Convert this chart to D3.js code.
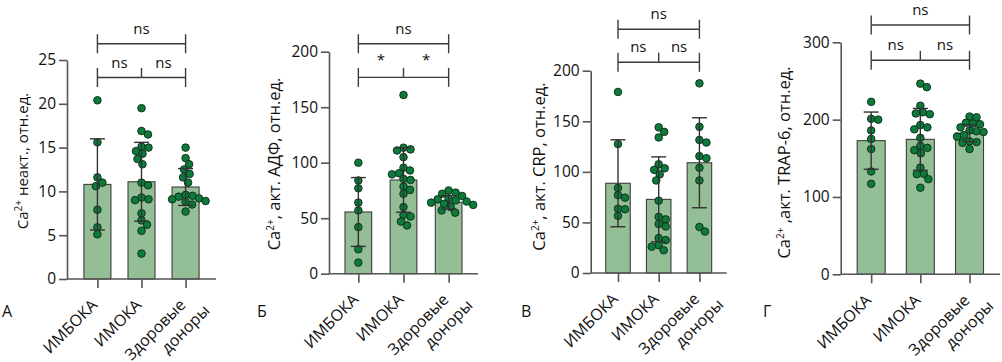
<!DOCTYPE html>
<html><head><meta charset="utf-8">
<script src="https://cdn.jsdelivr.net/npm/d3@7"></script>
<style>
body{margin:0;background:#fff}
svg{display:block}
text{font-family:"Open Sans","Noto Sans",sans-serif;fill:#111}
</style>
</head><body>
<svg id="chart" width="1002" height="362"></svg>
<script>
// ---------- data ----------
const categories = ["ИМБОКА", "ИМОКА", "Здоровые доноры"];

// Panel А: Ca2+ неакт.
const aImboka = [20.4, 15.6, 11.6, 11.0, 10.6, 7.9, 5.9, 5.1];
const aImoka  = [19.5, 16.9, 16.5, 15.1, 15.0, 14.6, 14.3, 13.7, 13.1, 11.0, 10.7, 9.3, 9.1, 9.0, 7.5, 6.7, 6.2, 5.5, 2.9];
const aDonors = [15.0, 13.8, 13.1, 12.5, 12.0, 11.6, 11.0, 9.6, 9.5, 9.4, 9.2, 9.1, 8.9, 8.8, 8.5, 7.7];
const aMeans  = [10.8, 11.1, 10.5];
const aSD     = [5.2, 4.5, 2.1];
const aTicks  = [0, 5, 10, 15, 20, 25];

// Panel Б: Ca2+ акт. АДФ
const bImboka = [100, 84, 77, 64, 57, 42, 22, 10];
const bImoka  = [161, 113.5, 112, 111, 105, 95.5, 93, 90.5, 89.5, 85.5, 84.5, 78.5, 75.5, 72, 60, 53, 51.5, 47, 43.5];
const bDonors = [75, 73, 72, 70, 68, 67, 66, 65, 64, 63, 62, 60, 57, 55];
const bMeans  = [55.6, 84.4, 64.3];
const bSD     = [31, 29, 6];
const bTicks  = [0, 50, 100, 150, 200];

// Panel В: Ca2+ акт. CRP
const cImboka = [179, 127.5, 84, 77, 74.5, 63.5, 63, 56.5];
const cImoka  = [144, 139.5, 134, 107.5, 103.5, 102, 97.5, 91.5, 71.5, 55.5, 53, 48.5, 46, 34.5, 32.5, 27.5, 26, 22.5];
const cDonors = [187.5, 144.5, 131.5, 129, 115.5, 113.5, 104, 91.5, 45.5, 41];
const cMeans  = [88.7, 72.8, 109];
const cSD     = [43, 42, 44.5];
const cTicks  = [0, 50, 100, 150, 200];

// Panel Г: Ca2+ акт. TRAP-6
const dImboka = [223, 201, 200, 186, 175, 162, 133, 117];
const dImoka  = [246.5, 242, 218, 209.5, 208, 207, 193, 190, 187.5, 176.5, 166, 163.5, 160.5, 156.5, 138, 130, 129.5, 123, 112];
const dDonors = [204, 203, 196, 195, 194, 190, 186, 185, 184, 180, 178, 172, 171, 170, 162];
const dMeans  = [172.8, 174.5, 182.5];
const dSD     = [37, 40, 11];
const dTicks  = [0, 100, 200, 300];

// significance annotations: [fromIndex, toIndex, level(value), label]
const aSig = {top: [0, 2, 26.86, "ns"], low: [[0, 1, "ns"], [1, 2, "ns"]], lowLevel: 23.0};
const bSig = {top: [0, 2, 207.2, "ns"], low: [[0, 1, "*"], [1, 2, "*"]], lowLevel: 176.9};
const cSig = {top: [0, 2, 241, "ns"],   low: [[0, 1, "ns"], [1, 2, "ns"]], lowLevel: 208.3};
const dSig = {top: [0, 2, 322.4, "ns"], low: [[0, 1, "ns"], [1, 2, "ns"]], lowLevel: 276.7};

const aTitle = ["Ca", "2+", " неакт., отн.ед."];
const bTitle = ["Ca", "2+", ", акт. АДФ, отн.ед."];
const cTitle = ["Ca", "2+", ", акт. CRP, отн.ед."];
const dTitle = ["Ca", "2+", " ,акт. TRAP-6, отн.ед."];

// ---------- layout ----------
const panels = [
  {letter: "А", letterX: 2, title: aTitle, series: [aImboka, aImoka, aDonors], means: aMeans, sd: aSD, ticks: aTicks, sig: aSig,
   x0: 67, x1: 216, pad: 0.69, yBottom: 279, yTop: 60, yMax: 25, barW: 27, titleOff: 39, titleY: 161, titleFs: 15},
  {letter: "Б", letterX: 257, title: bTitle, series: [bImboka, bImoka, bDonors], means: bMeans, sd: bSD, ticks: bTicks, sig: bSig,
   x0: 329, x1: 478, pad: 0.65, yBottom: 273.7, yTop: 51.7, yMax: 200, barW: 26.7, titleOff: 49, titleY: 164, titleFs: 16.5},
  {letter: "В", letterX: 521, title: cTitle, series: [cImboka, cImoka, cDonors], means: cMeans, sd: cSD, ticks: cTicks, sig: cSig,
   x0: 590.7, x1: 726.7, pad: 0.67, yBottom: 273, yTop: 70.7, yMax: 200, barW: 24.5, titleOff: 46, titleY: 166.5, titleFs: 16.5},
  {letter: "Г", letterX: 763, title: dTitle, series: [dImboka, dImoka, dDonors], means: dMeans, sd: dSD, ticks: dTicks, sig: dSig,
   x0: 840.7, x1: 1000, pad: 0.62, yBottom: 274.3, yTop: 42.3, yMax: 300, barW: 28, titleOff: 51, titleY: 162.5, titleFs: 16.5}
];

const BAR_FILL = "#94be95", BAR_STROKE = "#3d3d3d";
const DOT_FILL = "#0d7a3c", DOT_STROKE = "#0b2a15";
const AXIS = "#555";
const R = 3.8;

const svg = d3.select("#chart");

function swarm(values, y, cx, r) {
  const pts = values.map(v => ({v, y: y(v)})).sort((a, b) => a.y - b.y);
  const placed = [];
  const step = 0.5;
  pts.forEach(p => {
    let k = 0, off = 0;
    while (true) {
      off = (k === 0) ? 0 : (k % 2 === 1 ? 1 : -1) * Math.ceil(k / 2) * step;
      const ok = placed.every(q => Math.hypot(q.off - off, q.y - p.y) >= 2 * r - 0.6);
      if (ok) break;
      k++;
    }
    p.off = off;
    placed.push(p);
  });
  return pts.map(p => ({v: p.v, x: cx + p.off, y: p.y}));
}

panels.forEach(P => {
  const g = svg.append("g");
  const x = d3.scalePoint().domain(categories).range([P.x0, P.x1]).padding(P.pad);
  const y = d3.scaleLinear().domain([0, P.yMax]).range([P.yBottom, P.yTop]);

  // bars
  g.selectAll("rect.bar").data(P.means).join("rect")
    .attr("x", (d, i) => x(categories[i]) - P.barW / 2)
    .attr("y", d => y(d))
    .attr("width", P.barW)
    .attr("height", d => y(0) - y(d))
    .attr("fill", BAR_FILL).attr("stroke", BAR_STROKE).attr("stroke-width", 1.1);

  // dots
  P.series.forEach((vals, i) => {
    const pts = swarm(vals, y, x(categories[i]), R);
    g.selectAll(null).data(pts).join("circle")
      .attr("cx", d => d.x).attr("cy", d => d.y).attr("r", R)
      .attr("fill", DOT_FILL).attr("stroke", DOT_STROKE).attr("stroke-width", 0.9);
  });

  // error bars (mean ± SD)
  P.means.forEach((m, i) => {
    const cx = x(categories[i]);
    const lo = y(m - P.sd[i]), hi = y(m + P.sd[i]);
    const eg = g.append("g").attr("stroke", "#333").attr("stroke-width", 1.4);
    eg.append("line").attr("x1", cx).attr("x2", cx).attr("y1", lo).attr("y2", hi);
    eg.append("line").attr("x1", cx - 7.5).attr("x2", cx + 7.5).attr("y1", hi).attr("y2", hi);
    eg.append("line").attr("x1", cx - 7.5).attr("x2", cx + 7.5).attr("y1", lo).attr("y2", lo);
  });

  // y axis
  const ya = g.append("g").attr("transform", `translate(${P.x0},0)`)
    .call(d3.axisLeft(y).tickValues(P.ticks).tickSize(8).tickSizeOuter(0).tickPadding(3));
  ya.select(".domain").attr("stroke", AXIS).attr("stroke-width", 1.6);
  ya.selectAll(".tick line").attr("stroke", AXIS).attr("stroke-width", 1.6);
  ya.selectAll(".tick text").style("font-size", "15.5px").attr("fill", "#111")
    .style("font-family", '"Open Sans","Noto Sans",sans-serif');

  // x axis
  const xa = g.append("g").attr("transform", `translate(0,${P.yBottom})`)
    .call(d3.axisBottom(x).tickSize(9).tickSizeOuter(0).tickFormat(""));
  xa.select(".domain").attr("d", `M${P.x0},0H${P.x1}`).attr("stroke", AXIS).attr("stroke-width", 1.6);
  xa.selectAll(".tick line").attr("stroke", AXIS).attr("stroke-width", 1.6);

  // rotated category labels
  categories.forEach((c, i) => {
    const lines = c.split(" ");
    const t = g.append("text")
      .attr("transform", `translate(${x(c) + 1},${P.yBottom + 27}) rotate(-45)`)
      .attr("text-anchor", "end").style("font-size", "16px");
    lines.forEach((ln, j) => {
      t.append("tspan").attr("x", j * 13).attr("y", j * 21).text(ln);
    });
  });

  // y title
  const tt = g.append("text")
    .attr("transform", `translate(${P.x0 - P.titleOff},${P.titleY}) rotate(-90)`)
    .attr("text-anchor", "middle").style("font-size", P.titleFs + "px");
  tt.append("tspan").text(P.title[0]);
  tt.append("tspan").attr("dy", -6).style("font-size", "10px").text(P.title[1]);
  tt.append("tspan").attr("dy", 6).text(P.title[2]);

  // panel letter
  g.append("text").attr("x", P.letterX).attr("y", 317).style("font-size", "16px").text(P.letter);

  // significance brackets
  const sg = g.append("g").attr("stroke", "#3a3a3a").attr("stroke-width", 1.4).attr("fill", "none");
  const [f, t2, lvl, lab] = P.sig.top;
  const ty = y(lvl), xa0 = x(categories[f]), xa1 = x(categories[t2]);
  sg.append("line").attr("x1", xa0).attr("x2", xa1).attr("y1", ty).attr("y2", ty);
  [xa0, xa1].forEach(xx => sg.append("line").attr("x1", xx).attr("x2", xx).attr("y1", ty - 9.5).attr("y2", ty + 9.5));
  g.append("text").attr("x", (xa0 + xa1) / 2).attr("y", ty - 10).attr("text-anchor", "middle").style("font-size", "15px").text(lab);

  const ly = y(P.sig.lowLevel);
  P.sig.low.forEach(([a, b, l]) => {
    const xl = x(categories[a]), xr = x(categories[b]);
    sg.append("line").attr("x1", xl).attr("x2", xr).attr("y1", ly).attr("y2", ly);
    g.append("text").attr("x", (xl + xr) / 2).attr("y", ly - (l === "*" ? 12 : 10))
      .attr("text-anchor", "middle").style("font-size", "15px").text(l);
  });
  [0, 1, 2].forEach(i => {
    const xx = x(categories[i]);
    const outer = (i === 0 || i === 2);
    sg.append("line").attr("x1", xx).attr("x2", xx).attr("y1", ly - 9.5).attr("y2", outer ? ly + 9.5 : ly);
  });
});
</script>
</body></html>
